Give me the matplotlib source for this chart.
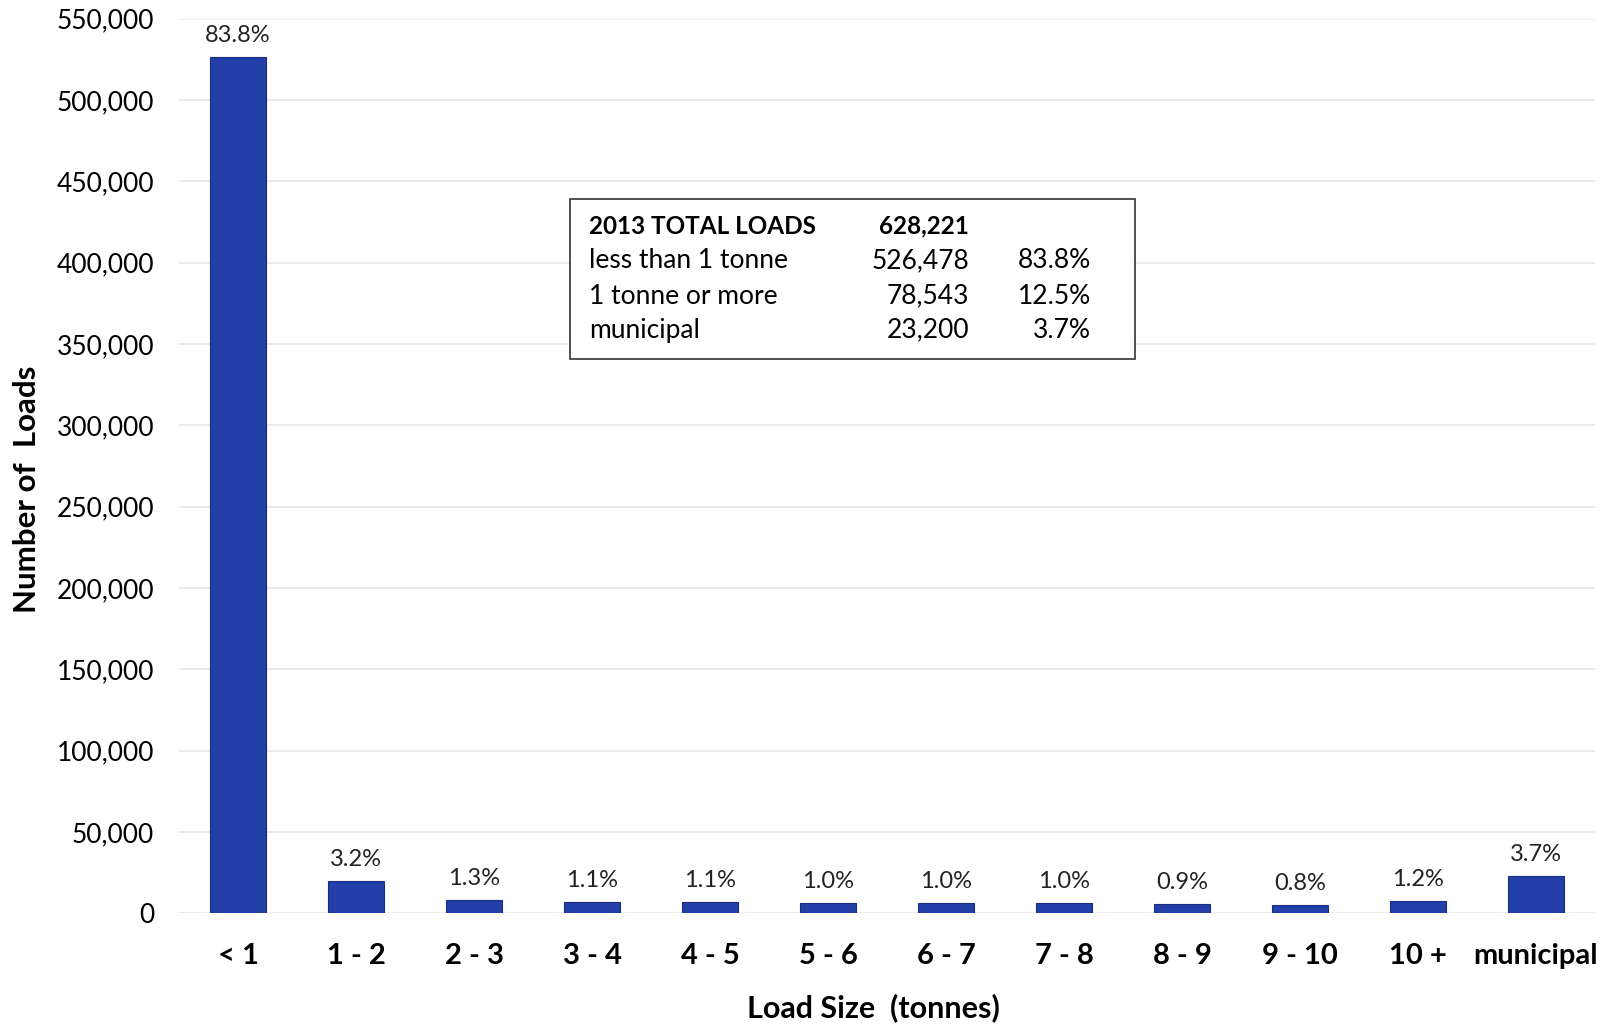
import matplotlib.pyplot as plt
from matplotlib.ticker import FuncFormatter
from matplotlib import rcParams

rcParams['font.family'] = ['Lato', 'DejaVu Sans']

# load size classes and number of loads (2013)
categories = ['< 1', '1 - 2', '2 - 3', '3 - 4', '4 - 5', '5 - 6', '6 - 7',
              '7 - 8', '8 - 9', '9 - 10', '10 +', 'municipal']
loads = [526478, 20000, 8100, 6900, 6800, 6300, 6200, 6200, 5600, 5000, 7443, 23200]
pct_labels = ['83.8%', '3.2%', '1.3%', '1.1%', '1.1%', '1.0%', '1.0%',
              '1.0%', '0.9%', '0.8%', '1.2%', '3.7%']
yticks = list(range(0, 550001, 50000))

# summary box
box_rows = [('2013 TOTAL LOADS', '628,221', ''),
            ('less than 1 tonne', '526,478', '83.8%'),
            ('1 tonne or more', '78,543', '12.5%'),
            ('municipal', '23,200', '3.7%')]

bar_color = '#2340a8'

fig = plt.figure(figsize=(16.17, 10.25), dpi=100)
ax = fig.add_axes([0.1107, 0.1088, 0.8757, 0.8731])

x = range(len(categories))
bars = ax.bar(x, loads, width=0.47, color=bar_color, edgecolor='#1a2d80',
              linewidth=0.8, zorder=3)

for b, lab in zip(bars, pct_labels):
    ax.annotate(lab, (b.get_x() + b.get_width() / 2, b.get_height()),
                xytext=(0, 8), textcoords='offset points',
                ha='center', va='bottom', fontsize=17, color='#222222')

ax.set_xlim(-0.5, len(categories) - 0.5)
ax.set_ylim(0, 550000)
ax.set_yticks(yticks)
ax.yaxis.set_major_formatter(FuncFormatter(lambda v, p: '{:,.0f}'.format(v)))
ax.set_xticks(list(x))
ax.set_xticklabels(categories, fontsize=21, fontweight='bold')
ax.tick_params(axis='y', length=0, pad=18, labelsize=19)
ax.tick_params(axis='x', length=0, pad=21)
ax.grid(axis='y', color='#e6e6e6', linewidth=1.2, zorder=0)
for s in ax.spines.values():
    s.set_visible(False)

fig.text(0.0166, 0.523, 'Number of  Loads', rotation=90, ha='center',
         va='center', fontsize=22.5, fontweight='bold')
fig.text(0.54, 1 - 1008 / 1025, 'Load Size  (tonnes)', ha='center', va='center',
         fontsize=22, fontweight='bold')

# text box with totals
bx0, bx1, by0, by1 = 570 / 1617, 1135 / 1617, 1 - 359 / 1025, 1 - 199 / 1025
fig.patches.append(plt.Rectangle((bx0, by0), bx1 - bx0, by1 - by0,
                                 transform=fig.transFigure, facecolor='white',
                                 edgecolor='#333333', linewidth=1.2, zorder=5))
row_y = [226, 261, 296, 330]
for i, (name, num, pct) in enumerate(box_rows):
    yy = 1 - row_y[i] / 1025
    w = 'bold' if i == 0 else 'normal'
    fs = 17.5 if i == 0 else 19
    fig.text(589 / 1617, yy, name, ha='left', va='center', fontsize=fs,
             fontweight=w, zorder=6)
    fig.text(969 / 1617, yy, num, ha='right', va='center', fontsize=fs,
             fontweight=w, zorder=6)
    if pct:
        fig.text(1091 / 1617, yy, pct, ha='right', va='center', fontsize=fs,
                 zorder=6)

plt.savefig('out.png', dpi=100)
